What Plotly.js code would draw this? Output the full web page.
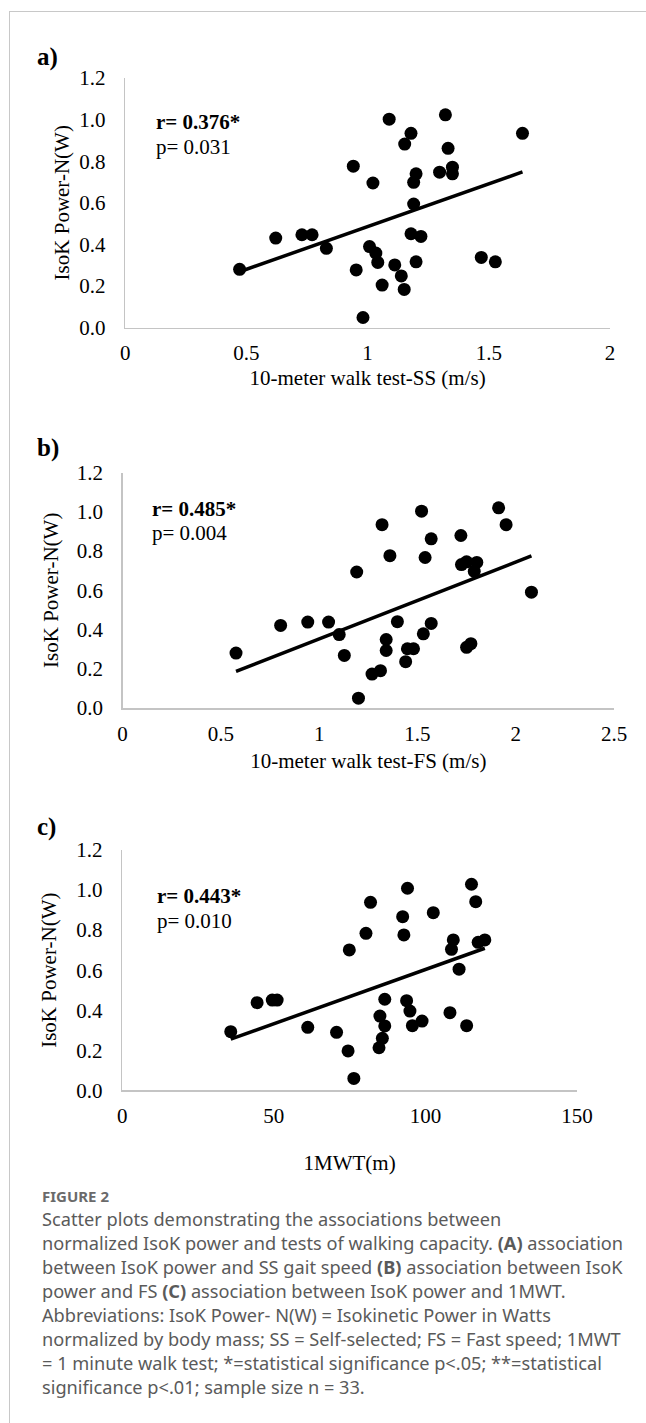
<!DOCTYPE html>
<html><head><meta charset="utf-8">
<script src="https://cdn.plot.ly/plotly-3.0.1.min.js"></script>
<style>
html,body{margin:0;padding:0;background:#fff;}
#wrap{position:relative;width:646px;height:1423px;overflow:hidden;}
#chart{position:absolute;left:0;top:0;width:646px;height:1423px;}
#frame{position:absolute;left:9px;top:11px;right:-4px;bottom:-4px;border-left:1px solid #c8c8c8;border-top:1px solid #c8c8c8;pointer-events:none;}
</style></head><body>
<div id="wrap"><div id="chart"></div><div id="frame"></div></div>
<script>
// ---- data ----
const ssSpeed = [0.472,0.621,0.729,0.771,0.830,0.941,0.953,0.981,1.008,1.022,1.034,1.042,1.060,1.089,1.112,1.139,1.151,1.153,1.179,1.179,1.190,1.200,1.190,1.200,1.220,1.297,1.321,1.332,1.350,1.350,1.469,1.527,1.639];
const ssPower = [0.280,0.430,0.446,0.446,0.381,0.776,0.277,0.048,0.389,0.695,0.358,0.313,0.204,1.002,0.301,0.248,0.183,0.882,0.934,0.451,0.698,0.739,0.594,0.316,0.438,0.747,1.023,0.862,0.771,0.739,0.337,0.316,0.934];

const fsSpeed = [0.577,0.804,0.942,1.048,1.102,1.128,1.191,1.269,1.312,1.320,1.341,1.341,1.360,1.398,1.440,1.449,1.480,1.521,1.530,1.539,1.570,1.570,1.721,1.724,1.750,1.802,1.789,1.750,1.772,1.913,1.951,2.080,1.200];
const fsPower = [0.280,0.421,0.438,0.438,0.374,0.268,0.693,0.173,0.190,0.934,0.349,0.293,0.776,0.440,0.236,0.302,0.302,1.003,0.378,0.767,0.862,0.431,0.879,0.731,0.745,0.742,0.696,0.309,0.328,1.020,0.934,0.590,0.050];

const mwtDist  = [35.8,44.5,49.5,51.1,61.2,70.7,74.5,74.9,76.4,80.4,81.9,84.7,85.0,85.8,86.6,86.6,92.5,92.9,93.8,94.1,94.9,95.7,98.9,102.6,108.1,108.6,109.2,111.1,113.6,115.2,116.6,117.4,119.6];
const mwtPower = [0.293,0.438,0.451,0.451,0.315,0.290,0.197,0.701,0.060,0.784,0.939,0.213,0.371,0.260,0.455,0.322,0.867,0.776,0.448,1.009,0.396,0.323,0.346,0.887,0.388,0.704,0.751,0.605,0.323,1.029,0.942,0.739,0.751];

const panelLabels = ["a)", "b)", "c)"];
const xTitles = ["10-meter walk test-SS (m/s)", "10-meter walk test-FS (m/s)", "1MWT(m)"];
const yTitle = "IsoK Power-N(W)";
const rTexts = ["r= 0.376*", "r= 0.485*", "r= 0.443*"];
const pTexts = ["p= 0.031", "p= 0.004", "p= 0.010"];
const xRanges = [[0,2],[0,2.5],[0,150]];
const xDticks = [0.5,0.5,50];

const captionHead = "FIGURE 2";
const captionLines = [
  "Scatter plots demonstrating the associations between",
  "normalized IsoK power and tests of walking capacity. <b>(A)</b> association",
  "between IsoK power and SS gait speed <b>(B)</b> association between IsoK",
  "power and FS <b>(C)</b> association between IsoK power and 1MWT.",
  "Abbreviations: IsoK Power- N(W) = Isokinetic Power in Watts",
  "normalized by body mass; SS = Self-selected; FS = Fast speed; 1MWT",
  "= 1 minute walk test; *=statistical significance p&lt;.05; **=statistical",
  "significance p&lt;.01; sample size n = 33."
];

// ---- layout helpers ----
const W = 646, H = 1423;
const fx = x => x / W;
const fy = y => 1 - y / H;
const SERIF = "Liberation Serif, Times New Roman, serif";
const SANS = "Noto Sans, Open Sans, sans-serif";

// pixel boxes of the three plot areas: [left, right, top, bottom]
const boxes = [[125.2,610,78,327.5],[122.6,614,472.5,708],[122.2,577,850,1090.4]];
const xTitleStandoff = [6, 8, 28];
const yTitleStandoff = [4, 12, 14];
const labelY = [57, 448, 827];
const rY = [[154,122,147],[150,509,533],[155,896,921]];

function ols(x, y) {
  const n = x.length;
  const mx = x.reduce((a,b)=>a+b,0)/n, my = y.reduce((a,b)=>a+b,0)/n;
  let sxy = 0, sxx = 0;
  for (let i=0;i<n;i++){ sxy += (x[i]-mx)*(y[i]-my); sxx += (x[i]-mx)**2; }
  const b = sxy/sxx, a = my - b*mx;
  const x0 = Math.min(...x), x1 = Math.max(...x);
  return {x:[x0,x1], y:[a+b*x0, a+b*x1]};
}

const sets = [[ssSpeed, ssPower],[fsSpeed, fsPower],[mwtDist, mwtPower]];
const traces = [];
const layout = {
  width: W, height: H, margin:{l:0,r:0,t:0,b:0}, autosize:false,
  paper_bgcolor:"#ffffff", plot_bgcolor:"rgba(0,0,0,0)", showlegend:false,
  font:{family:SERIF, size:21, color:"#000"},
  annotations: []
};

sets.forEach((s, i) => {
  const k = i === 0 ? "" : String(i+1);
  const fit = ols(s[0], s[1]);
  traces.push({type:"scatter", mode:"lines", x:fit.x, y:fit.y, xaxis:"x"+k, yaxis:"y"+k,
    line:{color:"#000", width:3.5}, hoverinfo:"skip"});
  traces.push({type:"scatter", mode:"markers", x:s[0], y:s[1], xaxis:"x"+k, yaxis:"y"+k,
    marker:{color:"#000", size:13}});
  const b = boxes[i];
  layout["xaxis"+k] = {
    domain:[fx(b[0]), fx(b[1])], range:xRanges[i], dtick:xDticks[i], tick0:0,
    anchor:"y"+k, showline:true, linecolor:"#c4c4c4", linewidth:1.5,
    ticks:"", showgrid:false, zeroline:false, ticklabelstandoff:6,
    tickfont:{family:SERIF, size:21, color:"#000"},
    title:{text:xTitles[i], standoff:xTitleStandoff[i], font:{family:SERIF, size:21, color:"#000"}}
  };
  layout["yaxis"+k] = {
    domain:[fy(b[3]), fy(b[2])], range:[0,1.2], dtick:0.2, tick0:0, tickformat:".1f",
    anchor:"x"+k, showline:true, linecolor:"#c4c4c4", linewidth:1.5,
    ticks:"", showgrid:false, zeroline:false, ticklabelstandoff:14,
    tickfont:{family:SERIF, size:21, color:"#000"},
    title:{text:yTitle, standoff:yTitleStandoff[i], font:{family:SERIF, size:21, color:"#000"}}
  };
  layout.annotations.push({text:"<b>"+panelLabels[i]+"</b>", xref:"paper", yref:"paper",
    x:fx(35), y:fy(labelY[i]), xanchor:"left", yanchor:"middle", showarrow:false,
    font:{family:SERIF, size:25, color:"#000"}});
  layout.annotations.push({text:"<b>"+rTexts[i]+"</b>", xref:"paper", yref:"paper",
    x:fx(rY[i][0]), y:fy(rY[i][1]), xanchor:"left", yanchor:"middle", showarrow:false,
    font:{family:SERIF, size:21, color:"#000"}});
  layout.annotations.push({text:pTexts[i], xref:"paper", yref:"paper",
    x:fx(rY[i][0]), y:fy(rY[i][2]), xanchor:"left", yanchor:"middle", showarrow:false,
    font:{family:SERIF, size:21, color:"#000"}});
});

layout.annotations.push({text:"<b>"+captionHead+"</b>", xref:"paper", yref:"paper",
  x:fx(40), y:fy(1196), xanchor:"left", yanchor:"middle", showarrow:false,
  font:{family:SANS, size:15, color:"#6a6a6a"}});
captionLines.forEach((t, j) => {
  layout.annotations.push({text:t, xref:"paper", yref:"paper",
    x:fx(40), y:fy(1219 + j*24), xanchor:"left", yanchor:"middle", showarrow:false,
    font:{family:SANS, size:18.2, color:"#5a5a5a"}});
});

Plotly.newPlot("chart", traces, layout, {displayModeBar:false, staticPlot:true});
</script>
</body></html>
